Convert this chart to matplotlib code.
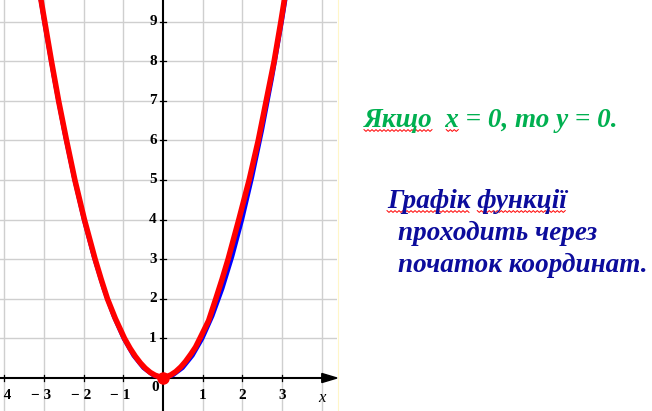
import numpy as np
import matplotlib
matplotlib.use('Agg')
import matplotlib.pyplot as plt
from matplotlib.transforms import IdentityTransform
from matplotlib.lines import Line2D

# y = x^2, read at quarter steps
blue_x = [-3.2, -3.0, -2.75, -2.5, -2.25, -2.0, -1.75, -1.5, -1.25, -1.0, -0.75, -0.5, -0.25,
          0.0, 0.25, 0.5, 0.75, 1.0, 1.25, 1.5, 1.75, 2.0, 2.25, 2.5, 2.75, 3.0, 3.2]
blue_y = [10.24, 9.0, 7.5625, 6.25, 5.0625, 4.0, 3.0625, 2.25, 1.5625, 1.0, 0.5625, 0.25, 0.0625,
          0.0, 0.0625, 0.25, 0.5625, 1.0, 1.5625, 2.25, 3.0625, 4.0, 5.0625, 6.25, 7.5625, 9.0, 10.24]

# hand-drawn red curve (a bit left of the blue one on the right branch)
red_x = [-3.15, -2.98, -2.81, -2.63, -2.43, -2.22, -1.98, -1.71, -1.56, -1.4, -1.2, -0.97,
         -0.83, -0.7, -0.57, -0.45, -0.32, -0.2, -0.1, 0.0, 0.1, 0.2, 0.32, 0.45, 0.57, 0.7,
         0.82, 0.93, 1.15, 1.33, 1.49, 1.64, 1.91, 2.17, 2.4, 2.6, 2.8, 2.97, 3.13]
red_y = [10.0, 9.0, 8.0, 7.0, 6.0, 5.0, 4.0, 3.0, 2.5, 2.0, 1.5, 1.0,
         0.75, 0.55, 0.38, 0.25, 0.14, 0.07, 0.035, 0.02, 0.035, 0.08, 0.16, 0.28, 0.42, 0.6,
         0.78, 1.0, 1.45, 2.0, 2.5, 3.0, 4.0, 5.0, 6.0, 7.0, 8.0, 9.0, 10.0]

x_ticks = [-4, -3, -2, -1, 1, 2, 3]
x_tick_labels = ['\u2212 4', '\u2212 3', '\u2212 2', '\u2212 1', '1', '2', '3']
y_ticks = [1, 2, 3, 4, 5, 6, 7, 8, 9]
y_tick_labels = ['1', '2', '3', '4', '5', '6', '7', '8', '9']
grid_x = [-4, -3, -2, -1, 1, 2, 3, 4]
grid_y = [1, 2, 3, 4, 5, 6, 7, 8, 9]

green_text = 'Якщо  x = 0, то y = 0.'
blue_lines = ['Графік функції', 'проходить через', 'початок координат.']

W, H = 652, 411
fig = plt.figure(figsize=(W / 100, H / 100), dpi=100)
ax = fig.add_axes([0, 0, 337 / W, 1])
ax.set_xlim(-4.106, 4.383)
ax.set_ylim(-0.833, 9.545)
ax.axis('off')

grid_kw = dict(color='#cfcfcf', lw=1.0, zorder=1)
for gx in grid_x:
    ax.axvline(gx, **grid_kw)
for gy in grid_y:
    ax.axhline(gy, **grid_kw)

# axes
ax.plot([-4.2, 4.05], [0, 0], color='black', lw=1.5, zorder=2)
ax.axvline(0, color='black', lw=1.5, zorder=2)
ax.fill([4.0, 4.383, 4.0], [0.115, 0, -0.115], color='black', zorder=2, clip_on=False)

# faint yellow edge of the picture area
fig.add_artist(Line2D([337.5, 337.5], [0, H], transform=IdentityTransform(),
                      color='#fff6c8', lw=0.8))

lab_font = dict(family='Liberation Serif', weight='bold', fontsize=11, color='black')
for t, lab in zip(x_ticks, x_tick_labels):
    ax.plot([t, t], [-0.08, 0.08], color='black', lw=0.9, zorder=2)
    shift = -0.07 if t < 0 else 0.0
    ax.text(t + shift, -0.45, lab, ha='center', va='center', **lab_font)
for t, lab in zip(y_ticks, y_tick_labels):
    ax.plot([-0.08, 0.08], [t, t], color='black', lw=0.9, zorder=2)
    ax.text(-0.16, t, lab, ha='right', va='center', **lab_font)
ax.text(-0.2, -0.24, '0', ha='center', va='center', **lab_font)
ax.text(4.0, -0.5, 'x', ha='center', va='center', family='Liberation Serif',
        style='italic', fontsize=12, color='black')

ax.plot(blue_x, blue_y, color='#0000ff', lw=2.6, zorder=3, solid_capstyle='round',
        solid_joinstyle='round')
ax.plot(red_x, red_y, color='#ff0000', lw=4.0, zorder=4, solid_capstyle='round',
        solid_joinstyle='round')
ax.plot([0], [0], 'o', color='#ff0000', ms=8, zorder=5)

txt_font = dict(family='Liberation Serif', weight='bold', style='italic', fontsize=19.5)
t_green = fig.text(364 / W, 1 - 127 / H, green_text, color='#00b050', va='baseline', **txt_font)
blue_pos = [(387, 208), (398, 240), (398, 272)]
t_blue = []
for s, (px, py) in zip(blue_lines, blue_pos):
    t_blue.append(fig.text(px / W, 1 - py / H, s, color='#0c0c9c', va='baseline', **txt_font))

fig.canvas.draw()
renderer = fig.canvas.get_renderer()


def text_width(s, props_from):
    tmp = fig.text(0, 0, s, fontproperties=props_from.get_fontproperties())
    w = tmp.get_window_extent(renderer).width
    tmp.remove()
    return w


def squiggle(t, prefix, word):
    # spell-check style red wavy line under one word
    x0 = t.get_window_extent(renderer).x0
    end = x0 + text_width(prefix + word, t)
    start = end - text_width(word, t)
    base = t.get_position()[1] * H - 3.5
    xs = np.arange(start, end, 2.0)
    ys = base + np.where(np.arange(len(xs)) % 2 == 0, 0.9, -0.9)
    fig.add_artist(Line2D(xs, ys, transform=IdentityTransform(), color='red', lw=0.7))


squiggle(t_green, '', 'Якщо')
squiggle(t_green, 'Якщо  ', 'x')
squiggle(t_blue[0], '', 'Графік')
squiggle(t_blue[0], 'Графік ', 'функції')

fig.savefig('out.png', dpi=100)
